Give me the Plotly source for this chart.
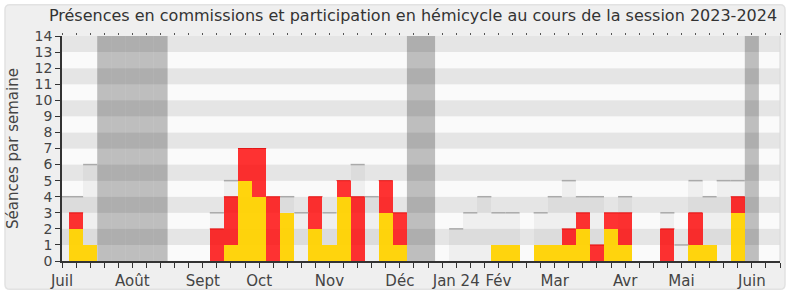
import plotly.graph_objects as go

# ---- data (week index 0 = first week of July 2023) ----
weeks = list(range(0, 51))
hemicycle = [0, 2, 1, 0, 0, 0, 0, 0, 0, 0,
             0, 0, 1, 5, 4, 0, 3, 0, 2, 1,
             4, 0, 0, 3, 1, 0, 0, 0, 0, 0,
             0, 1, 1, 0, 1, 1, 1, 2, 0, 2,
             1, 0, 0, 0, 0, 1, 1, 0, 3, 0, 0]
commission = [0, 1, 0, 0, 0, 0, 0, 0, 0, 0,
              0, 2, 3, 2, 3, 4, 0, 0, 2, 0,
              1, 4, 0, 2, 2, 0, 0, 0, 0, 0,
              0, 0, 0, 0, 0, 0, 1, 1, 1, 1,
              2, 0, 0, 2, 0, 2, 0, 0, 1, 0, 0]
N = None
median = [4, 4, 6, N, N, N, N, N, N, N,
          N, 3, 5, N, N, N, 4, 3, N, 3,
          N, 6, 4, N, N, N, N, N, 2, 3,
          4, 3, 3, N, 3, 4, 5, 4, 4, N,
          4, N, N, 3, 1, 5, 4, 5, 5, N, N]
holiday_weeks = [3, 4, 5, 6, 7, 25, 26, 49]
month_ticks = [0, 5, 10, 14, 19, 24, 28, 31, 35, 40, 44, 49]
month_labels = ["Juil", "Août", "Sept", "Oct", "Nov", "Déc",
                "Jan 24", "Fév", "Mar", "Avr", "Mai", "Juin"]
y_max = 14
x_max = 51

FONT = "DejaVu Sans"

fig = go.Figure()

# median (light bars + top segments)
med_x = [w for w, m in zip(weeks, median) if m is not None]
med_y = [m for m in median if m is not None]
fig.add_trace(go.Bar(x=med_x, y=med_y, width=1,
                     marker=dict(color="rgba(150,150,150,0.1)", line=dict(width=0)),
                     hoverinfo="skip", showlegend=False))
lx, ly = [], []
for w, m in zip(med_x, med_y):
    lx += [w - 0.5, w + 0.5, None]
    ly += [m, m, None]
fig.add_trace(go.Scatter(x=lx, y=ly, mode="lines",
                         line=dict(color="#aaaaaa", width=1.5),
                         hoverinfo="skip", showlegend=False))

# hemicycle (yellow) and commission (red) stacked
fig.add_trace(go.Bar(x=weeks, y=hemicycle, width=1, base=0,
                     marker=dict(color="rgba(255,210,0,0.95)", line=dict(width=0)),
                     name="Hémicycle", showlegend=False))
fig.add_trace(go.Bar(x=weeks, y=commission, width=1, base=hemicycle,
                     marker=dict(color="rgba(255,0,0,0.8)", line=dict(width=0)),
                     name="Commission", showlegend=False))
# thin top edge on red bars
rx, ry = [], []
for w, h, c in zip(weeks, hemicycle, commission):
    if c > 0:
        rx += [w - 0.5, w + 0.5, None]
        ry += [h + c, h + c, None]
fig.add_trace(go.Scatter(x=rx, y=ry, mode="lines",
                         line=dict(color="rgba(225,0,0,0.9)", width=1),
                         hoverinfo="skip", showlegend=False))

# invisible trace for top tick axis
fig.add_trace(go.Scatter(x=[0, x_max], y=[0, 0], xaxis="x2", mode="markers",
                         marker=dict(opacity=0), hoverinfo="skip", showlegend=False))

shapes = []
# outer rounded frame (paper coords)
pl, pr, pt, pb = 62, 10, 36, 34
pw, ph = 790 - pl - pr, 300 - pt - pb
def px2x(px):
    return (px - pl) / pw
def py2y(py):
    return (300 - pb - py) / ph
x0, x1 = px2x(5), px2x(785)
y0, y1 = py2y(295), py2y(4)
rx_, ry_ = 5 / pw, 5 / ph
path = (f"M {x0+rx_},{y1} L {x1-rx_},{y1} Q {x1},{y1} {x1},{y1-ry_} "
        f"L {x1},{y0+ry_} Q {x1},{y0} {x1-rx_},{y0} L {x0+rx_},{y0} "
        f"Q {x0},{y0} {x0},{y0+ry_} L {x0},{y1-ry_} Q {x0},{y1} {x0+rx_},{y1} Z")
shapes.append(dict(type="path", xref="paper", yref="paper", path=path,
                   fillcolor="#efefef", line=dict(color="#e2e2e2", width=1.5),
                   layer="below"))
# horizontal stripes
for i in range(y_max):
    shapes.append(dict(type="rect", xref="paper", yref="y", x0=0, x1=1,
                       y0=i, y1=i + 1, layer="below", line=dict(width=0),
                       fillcolor="#e5e5e5" if i % 2 else "#fafafa"))
# holidays
for w in holiday_weeks:
    shapes.append(dict(type="rect", xref="x", yref="paper", x0=w - 0.5, x1=w + 0.5,
                       y0=0, y1=1, layer="below", line=dict(width=0),
                       fillcolor="rgba(0,0,0,0.24)"))
# right plot border
shapes.append(dict(type="line", xref="paper", yref="paper", x0=1, x1=1, y0=0, y1=1,
                   line=dict(color="#d8d8d8", width=1), layer="below"))

fig.update_layout(
    width=790, height=300, autosize=False,
    margin=dict(l=pl, r=pr, t=pt, b=pb),
    paper_bgcolor="white", plot_bgcolor="rgba(0,0,0,0)",
    barmode="overlay", bargap=0,
    font=dict(family=FONT, color="#444", size=15),
    title=dict(text="Présences en commissions et participation en hémicycle au cours de la session 2023-2024",
               font=dict(family=FONT, size=16, color="#333"),
               x=px2x(413), xref="paper", xanchor="center",
               y=1 - 15 / 300, yref="container", yanchor="middle"),
    xaxis=dict(range=[0, x_max], tickmode="array",
               tickvals=list(range(0, x_max + 1)),
               ticktext=[month_labels[month_ticks.index(t)] if t in month_ticks else ""
                         for t in range(0, x_max + 1)],
               ticks="outside", ticklen=5, tickcolor="#333", tickwidth=1,
               showline=True, linecolor="#333", linewidth=1.5,
               showgrid=False, zeroline=False,
               tickfont=dict(size=15, color="#444"), fixedrange=True),
    xaxis2=dict(range=[0, x_max], overlaying="x", side="top", anchor="y",
                tickmode="linear", tick0=0, dtick=1, ticks="outside", ticklen=2,
                tickcolor="#555", showticklabels=False, showline=False,
                showgrid=False, zeroline=False),
    yaxis=dict(range=[0, y_max], tickmode="linear", tick0=0, dtick=1,
               ticks="outside", ticklen=5, tickcolor="#333",
               showline=True, linecolor="#333", linewidth=1.5,
               showgrid=False, zeroline=False,
               tickfont=dict(size=14, color="#444"),
               title=dict(text="Séances par semaine", font=dict(size=15, color="#444"),
                          standoff=12)),
    shapes=shapes,
)

fig.write_html("out.html")
